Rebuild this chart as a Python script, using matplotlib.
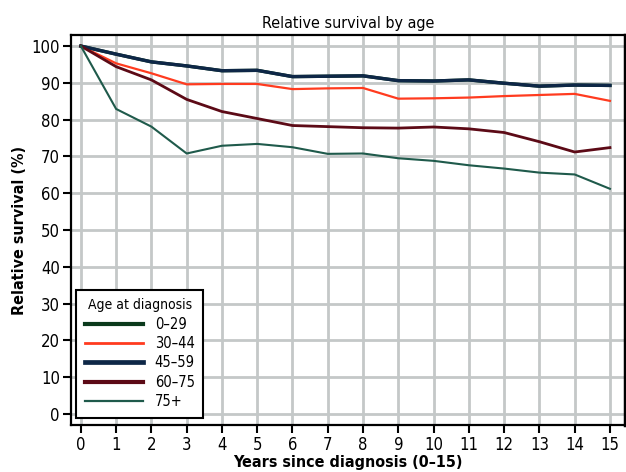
import matplotlib
matplotlib.use("Agg")
import matplotlib.pyplot as plt

years = list(range(16))
s_0_29 = [100, 97.8, 95.7, 94.6, 93.3, 93.4, 91.7, 91.8, 91.9, 90.6, 90.5, 90.8, 89.9, 89.1, 89.4, 89.3]
s_30_44 = [100, 95.3, 92.6, 89.6, 89.7, 89.7, 88.3, 88.5, 88.6, 85.7, 85.8, 86.0, 86.4, 86.7, 87.0, 85.1]
s_45_59 = [100, 97.8, 95.7, 94.6, 93.3, 93.4, 91.7, 91.8, 91.9, 90.6, 90.5, 90.8, 89.9, 89.1, 89.4, 89.3]
s_60_75 = [100, 94.4, 90.8, 85.5, 82.2, 80.3, 78.4, 78.1, 77.8, 77.7, 78.0, 77.5, 76.5, 74.0, 71.2, 72.4]
s_75p = [100, 82.9, 78.1, 70.8, 72.9, 73.4, 72.5, 70.7, 70.8, 69.5, 68.8, 67.6, 66.7, 65.6, 65.1, 61.2]
labels = ["0\u201329", "30\u201344", "45\u201359", "60\u201375", "75+"]
yticks = list(range(0, 101, 10))

plt.rcParams['font.family'] = ['DejaVu Sans']
plt.rcParams['font.stretch'] = 'condensed'

fig = plt.figure(figsize=(6.26, 4.72), dpi=100)
ax = fig.add_axes([0.1134, 0.0996, 0.8846, 0.8262])

series = [
    (s_0_29, "#0b3a1c", 2.4, 3.0),
    (s_30_44, "#ff3b1f", 1.6, 2.0),
    (s_45_59, "#0e2747", 2.4, 3.4),
    (s_60_75, "#5c0a16", 2.0, 3.0),
    (s_75p, "#1f5a4b", 1.5, 1.6),
]
for (vals, col, lw, _), lab in zip(series, labels):
    ax.plot(years, vals, color=col, lw=lw, label=lab, solid_joinstyle='round')

ax.set_xlim(-0.28, 15.42)
ax.set_ylim(-3.0, 103.0)
ax.set_xticks(years)
ax.set_yticks(yticks)
ax.grid(True, color="#c4c8c8", lw=2.0)
ax.set_axisbelow(True)
ax.tick_params(axis='both', direction='out', length=6, width=1.5, labelsize=12, colors='black', pad=2)
for sp in ax.spines.values():
    sp.set_linewidth(1.6)
    sp.set_color('black')
ax.spines['right'].set_linewidth(2.5)

ax.set_title("Relative survival by age", fontsize=11.5, pad=5)
ax.set_xlabel("Years since diagnosis (0\u201315)", fontsize=11.5, fontweight='bold', labelpad=1)
ax.set_ylabel("Relative survival (%)", fontsize=11.5, fontweight='bold', labelpad=3)

leg = ax.legend(loc='lower left', bbox_to_anchor=(0.009, 0.018), borderaxespad=0,
                title="Age at diagnosis", fontsize=10.5, title_fontsize=10,
                handlelength=4.0, handletextpad=0.8, labelspacing=0.3,
                fancybox=False, framealpha=1, edgecolor='black', borderpad=0.6)
leg.get_frame().set_linewidth(1.5)
for h, s in zip(leg.get_lines(), series):
    h.set_linewidth(s[3])

fig.savefig("out.png", dpi=100)
